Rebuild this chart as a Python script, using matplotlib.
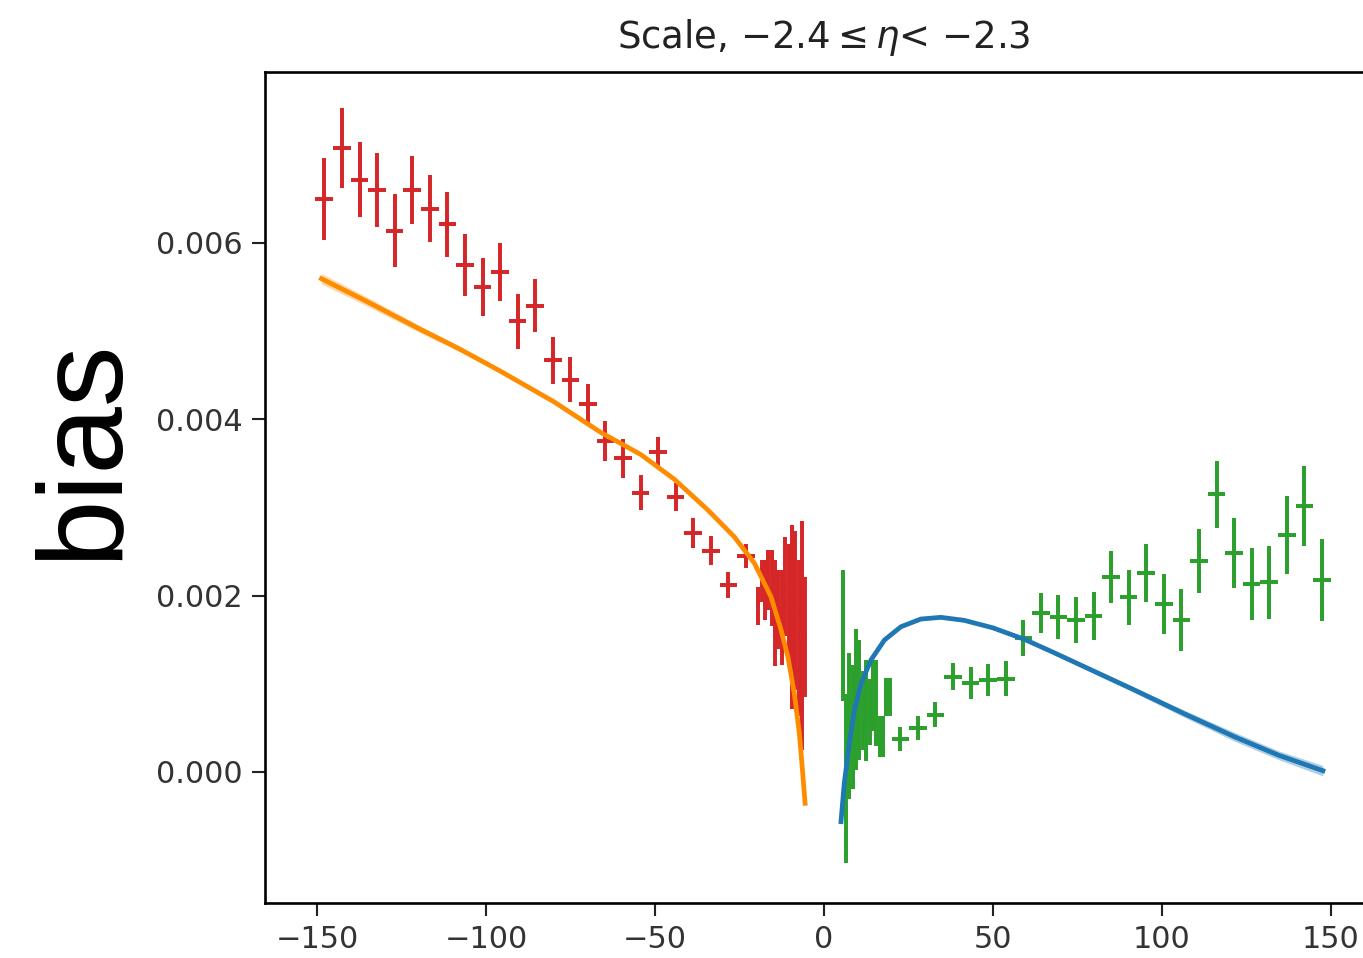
import numpy as np
import matplotlib
matplotlib.use('Agg')
import matplotlib.pyplot as plt

# coarse bins (width ~5.2) on each side
neg_x = [-148.0, -142.7, -137.5, -132.3, -127.1, -121.9, -116.7, -111.5, -106.3, -101.1,
         -95.9, -90.7, -85.5, -80.3, -75.1, -69.9, -64.7, -59.5, -54.3, -49.1,
         -43.9, -38.7, -33.5, -28.3, -23.1]
neg_y = [0.00650, 0.00708, 0.00672, 0.00660, 0.00614, 0.00660, 0.00639, 0.00621, 0.00575, 0.00550,
         0.00567, 0.00511, 0.00529, 0.00467, 0.00445, 0.00417, 0.00375, 0.00356, 0.00317, 0.00363,
         0.00312, 0.00271, 0.00251, 0.00212, 0.00245]
neg_err = [0.000463, 0.000454, 0.000425, 0.000416, 0.000416, 0.000388, 0.000378, 0.000365, 0.000350, 0.000327,
           0.000329, 0.000312, 0.000303, 0.000269, 0.000255, 0.000236, 0.000227, 0.000221, 0.000195, 0.000170,
           0.000161, 0.000170, 0.000161, 0.000147, 0.000132]

pos_x = [22.6, 27.8, 33.0, 38.2, 43.4, 48.6, 53.8, 59.0, 64.2, 69.4,
         74.6, 79.8, 85.0, 90.2, 95.4, 100.6, 105.8, 111.0, 116.2, 121.4,
         126.6, 131.8, 137.0, 142.2, 147.4]
pos_y = [0.00037, 0.00050, 0.00065, 0.00108, 0.00101, 0.00104, 0.00106, 0.00152, 0.00180, 0.00176,
         0.00172, 0.00177, 0.00221, 0.00198, 0.00226, 0.00191, 0.00172, 0.00239, 0.00315, 0.00248,
         0.00213, 0.00215, 0.00269, 0.00302, 0.00218]
pos_err = [0.000136, 0.000136, 0.000140, 0.000151, 0.000180, 0.000180, 0.000198, 0.000208, 0.000227, 0.000246,
           0.000261, 0.000268, 0.000297, 0.000312, 0.000327, 0.000340, 0.000350, 0.000363, 0.000378, 0.000397,
           0.000405, 0.000416, 0.000440, 0.000454, 0.000465]

# fine bins close to zero
neg_fine_x = [-19.5, -18.5, -17.5, -16.5, -15.5, -14.5, -13.5, -12.5, -11.5, -10.5,
              -9.5, -8.5, -7.5, -6.5, -5.5]
neg_fine_y = [0.00188, 0.00217, 0.00206, 0.00218, 0.00209, 0.00180, 0.00184, 0.00175, 0.00210, 0.00193,
              0.00176, 0.00183, 0.00152, 0.00155, 0.00153]
neg_fine_err = [0.000217, 0.00024, 0.00034, 0.00034, 0.00043, 0.00060, 0.00045, 0.00054, 0.00056, 0.00066,
                0.00104, 0.00090, 0.00088, 0.00130, 0.00068]

pos_fine_x = [5.5, 6.5, 7.5, 8.5, 9.5, 10.5, 11.5, 12.5, 13.5, 14.5,
              15.5, 16.5, 17.5, 18.5, 19.5]
pos_fine_y = [0.00155, -0.00007, 0.00052, 0.00051, 0.00082, 0.00082, 0.00070, 0.00070, 0.00068, 0.00087,
              0.00078, 0.00040, 0.00040, 0.00085, 0.00085]
pos_fine_err = [0.00074, 0.00096, 0.00083, 0.00070, 0.00080, 0.00068, 0.00045, 0.00057, 0.00037, 0.00040,
                0.00049, 0.00023, 0.00023, 0.00022, 0.00022]

# fitted model curves
fit_neg_x = [-148.8, -135.0, -120.0, -108.0, -96.2, -80.0, -66.0, -54.2, -44.3, -34.4,
             -26.6, -20.6, -15.7, -12.7, -10.7, -8.8, -7.3, -6.3, -5.6]
fit_neg_y = [0.005595, 0.005330, 0.005030, 0.004800, 0.004555, 0.004200, 0.003850, 0.003600, 0.003320, 0.002972,
             0.002669, 0.002367, 0.001988, 0.001610, 0.001308, 0.000893, 0.000439, -0.000015, -0.000355]
fit_neg_band = [0.00006, 0.00005, 0.00004, 0.00003, 0.000025, 0.00002, 0.000015, 0.00001, 0.00001, 0.00001,
                0.00001, 0.00001, 0.00001, 0.00001, 0.00001, 0.00001, 0.00001, 0.00001, 0.00001]

fit_pos_x = [5.03, 6.0, 7.5, 9.0, 11.0, 13.9, 17.9, 22.8, 28.7, 34.6,
             41.5, 50.0, 59.3, 68.0, 75.6, 91.9, 106.7, 121.5, 134.6, 147.7]
fit_pos_y = [-0.000563, -0.000128, 0.000326, 0.000703, 0.001006, 0.001270, 0.001497, 0.001648, 0.001735, 0.001754,
             0.001720, 0.001635, 0.001505, 0.001355, 0.001220, 0.000930, 0.000660, 0.000400, 0.000190, 0.0000147]
fit_pos_band = [0.00001, 0.00001, 0.00001, 0.00001, 0.00001, 0.00001, 0.00001, 0.00001, 0.00001, 0.00001,
                0.00001, 0.00001, 0.000015, 0.00002, 0.000025, 0.00003, 0.00004, 0.00005, 0.00005, 0.00006]

coarse_half = 2.6
fine_half = 0.5

plt.rcParams['xtick.labelsize'] = 11.5
plt.rcParams['ytick.labelsize'] = 11.5
plt.rcParams['xtick.major.size'] = 5
plt.rcParams['ytick.major.size'] = 5
plt.rcParams['axes.linewidth'] = 1.0

fig = plt.figure(figsize=(1363 / 190, 958 / 190), dpi=190)
ax = fig.add_axes([0.1944, 0.0574, 0.8203, 0.8675])

ax.errorbar(neg_x, neg_y, yerr=neg_err, xerr=coarse_half, fmt='none', color='tab:red')
ax.errorbar(neg_fine_x, neg_fine_y, yerr=neg_fine_err, xerr=fine_half, fmt='none', color='tab:red')
ax.errorbar(pos_x, pos_y, yerr=pos_err, xerr=coarse_half, fmt='none', color='tab:green')
ax.errorbar(pos_fine_x, pos_fine_y, yerr=pos_fine_err, xerr=fine_half, fmt='none', color='tab:green')

fny = np.array(fit_neg_y)
fnb = np.array(fit_neg_band)
ax.plot(fit_neg_x, fit_neg_y, color='darkorange', lw=1.8)
ax.fill_between(fit_neg_x, fny - fnb, fny + fnb, color='darkorange', alpha=0.35, lw=0)

fpy = np.array(fit_pos_y)
fpb = np.array(fit_pos_band)
ax.plot(fit_pos_x, fit_pos_y, color='tab:blue', lw=1.8)
ax.fill_between(fit_pos_x, fpy - fpb, fpy + fpb, color='tab:blue', alpha=0.35, lw=0)

ax.set_xlim(-165.5, 165.5)
ax.set_ylim(-0.001486, 0.00794)
ax.set_xticks([-150, -100, -50, 0, 50, 100, 150])
ax.set_yticks([0.0, 0.002, 0.004, 0.006])
ax.yaxis.set_major_formatter(matplotlib.ticker.FormatStrFormatter('%.3f'))
ax.tick_params(colors='#222222', labelcolor='#333333')

ax.set_title(r'Scale, $-2.4 \leq \eta$< $-2.3$', fontsize=14, color='#222222', pad=9)
ax.set_ylabel('bias', fontsize=46, family=['Liberation Sans', 'DejaVu Sans'])
ax.yaxis.set_label_coords(-0.112, 0.546)

fig.savefig('out.png', dpi=190)
